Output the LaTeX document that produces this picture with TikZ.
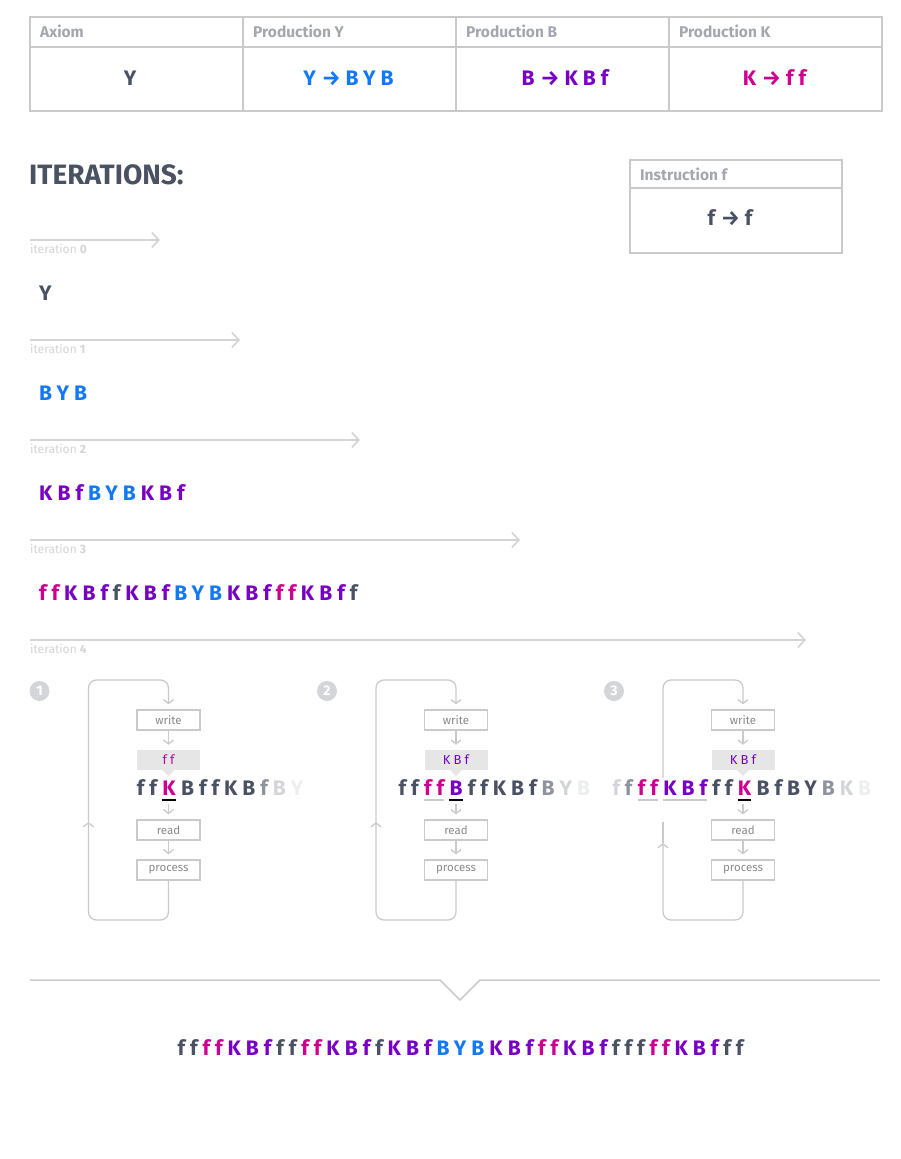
\documentclass[tikz,border=0pt]{standalone}
\usepackage{fontspec}
\setmainfont{Fira Sans}
\newfontfamily\seqfont[LetterSpace=24,Ligatures=CommonOff]{Fira Sans}
\usetikzlibrary{arrows.meta,positioning}

\definecolor{ink}{HTML}{4A5163}
\definecolor{lsblue}{HTML}{1279F2}
\definecolor{lspurple}{HTML}{7700C2}
\definecolor{lsmagenta}{HTML}{CC0090}
\definecolor{inkmid}{HTML}{8E939C}
\definecolor{inklight}{HTML}{D4D5D9}
\definecolor{inkfaint}{HTML}{EDEEF0}
\definecolor{rule}{HTML}{CACACD}
\definecolor{headgray}{HTML}{A4A7AD}
\definecolor{itergray}{HTML}{D3D4D8}
\definecolor{bufgray}{HTML}{E6E6E7}
\definecolor{boxtext}{HTML}{8A8A8A}

% each coloured run ends with the same tracking as inside the run
\newcommand\trk{\kern5pt}
\newcommand\cDk[1]{\textcolor{ink}{#1}\trk}
\newcommand\cMg[1]{\textcolor{lsmagenta}{#1}\trk}
\newcommand\cPu[1]{\textcolor{lspurple}{#1}\trk}
\newcommand\cBl[1]{\textcolor{lsblue}{#1}\trk}
\newcommand\cMd[1]{\textcolor{inkmid}{#1}\trk}
\newcommand\cLt[1]{\textcolor{inklight}{#1}\trk}
\newcommand\cXl[1]{\textcolor{inkfaint}{#1}\trk}

\tikzset{
  seq/.style={font=\seqfont\bfseries\fontsize{21}{21}\selectfont, inner sep=0pt, text=ink},
  seqat/.style={seq, anchor=base west},
  head/.style={font=\bfseries\fontsize{15.5}{15.5}\selectfont, text=headgray, anchor=base west, inner sep=0pt},
  rulebox/.style={draw=rule, line width=1.5pt},
  iterline/.style={draw=itergray, line width=1.6pt, -{Straight Barb[length=7pt,width=15pt,line width=1.6pt]}},
  iterlabel/.style={font=\fontsize{12}{12}\selectfont, text=itergray, anchor=base west, inner sep=0pt},
  stepbox/.style={draw=rule, line width=1.3pt, minimum width=63pt, minimum height=20pt, inner sep=0pt, font=\fontsize{11.5}{11.5}\selectfont, text=boxtext},
  bufbox/.style={fill=bufgray, minimum width=63pt, minimum height=20pt, inner sep=0pt, font=\seqfont\fontsize{13}{13}\selectfont},
  flowtip/.style={-{Straight Barb[length=4pt,width=10pt,line width=1.3pt]}},
  flow/.style={draw=rule, line width=1.3pt, shorten >=5pt, flowtip},
  loopline/.style={draw=rule, line width=1.3pt, rounded corners=8pt},
  numdot/.style={circle, fill=inklight, minimum size=20pt, inner sep=0pt, text=white, font=\bfseries\fontsize{14}{14}\selectfont},
  curline/.style={draw=black, line width=2pt},
  pastline/.style={draw=rule, line width=2pt}
}

\begin{document}
\begin{tikzpicture}[x=1pt,y=-1pt]
\useasboundingbox (0,0) rectangle (900,1159);

% rules table
\draw[rulebox] (30,17) rectangle (882,111);
\draw[rulebox] (30,47) -- (882,47);
\foreach \x in {243,456,669} \draw[rulebox] (\x,17) -- (\x,111);
\node[head] (hax) at (40,37) {Axiom};
\node[head] (hpy) at (253,37) {Production Y};
\node[head] (hpb) at (466,37) {Production B};
\node[head] (hpk) at (679,37) {Production K};
\node[seq, anchor=base] (vax) at (130,85) {Y};
\node[seq, anchor=base, text=lsblue] (vpy) at (348.5,85) {Y\kern6pt→\kern5pt BYB};
\node[seq, anchor=base, text=lspurple] (vpb) at (565,85) {B\kern6pt→\kern5pt KBf};
\node[seq, anchor=base, text=lsmagenta] (vpk) at (774.5,85) {K\kern6pt→\kern5pt ff};

% instruction box
\draw[rulebox] (630,160) rectangle (842,253);
\draw[rulebox] (630,188) -- (842,188);
\node[head] (hif) at (640,180) {Instruction f};
\node[seq, anchor=base] (vif) at (730,225) {f\kern6pt→\kern5pt f};

\node[font=\bfseries\fontsize{28}{28}\selectfont, text=ink, anchor=base west, inner sep=0pt] (title) at (29,184) {ITERATIONS:};

% iterations
\foreach \n/\y/\xe in {0/240/160, 1/340/240, 2/440/360, 3/540/520, 4/640/806} {
  \coordinate (is\n) at (30,\y);
  \coordinate (ie\n) at (\xe,\y);
  \draw[iterline] (is\n) -- (ie\n);
  \node[iterlabel] (il\n) at (30,\y+13) {iteration \textbf{\n}};
}
\node[seqat] (s0) at (39,300) {Y};
\node[seqat, text=lsblue] (s1) at (39,400) {BYB};
\node[seqat] (s2) at (39,500) {\cPu{KBf}\cBl{BYB}\cPu{KBf}};
\node[seqat] (s3) at (39,600) {\cMg{ff}\cPu{KBf}\cDk{f}\cPu{KBf}\cBl{BYB}\cPu{KBf}\cMg{ff}\cPu{KBf}\cDk{f}};

% read / process / write loops
\foreach \i/\xa/\bc/\bt/\tipy/\resy in {1/168.5/lsmagenta/ff/822/822, 2/456/lspurple/KBf/822/822, 3/743/lspurple/KBf/843/778} {
  \node[numdot] (n\i) at (\xa-129,691) {\i};
  \node[stepbox] (w\i) at (\xa,720) {write};
  \node[bufbox, text=\bc] (g\i) at (\xa,760) {\bt};
  \fill[bufgray] ([xshift=-6pt]g\i.south) -- ([xshift=6pt]g\i.south) -- ([yshift=-6pt]g\i.south) -- cycle;
  \node[stepbox] (r\i) at (\xa,830) {read};
  \node[stepbox] (p\i) at (\xa,870) {process};
  \coordinate (u\i) at (\xa,804);
  \coordinate (lb\i) at (\xa-80,920);
  \draw[flow] (w\i) -- (g\i);
  \draw[flow] (u\i) -- (r\i);
  \draw[flow] (r\i) -- (p\i);
  \draw[loopline, flowtip] (p\i.south) |- (lb\i) -- (\xa-80,\tipy);
  \draw[loopline] (\xa-80,\tipy) -- (\xa-80,822);
  \draw[loopline, shorten >=5pt, flowtip] (\xa-80,\resy) |- (\xa,680) -- (w\i.north);
}

% panel 1
\node[seq, anchor=base] (c1) at (171.5,795) {\cMg{K}};
\node[seq, anchor=base east] (b1) at (c1.base west) {\cDk{ff}};
\node[seqat] (a1) at (c1.base east) {\cDk{BffKB}\cMd{f}\cLt{B}\cXl{Y}};
\draw[curline] ([yshift=-5pt]c1.base west) -- ([xshift=-5pt,yshift=-5pt]c1.base east);

% panel 2
\node[seq, anchor=base] (c2) at (458.5,795) {\cPu{B}};
\node[seq, anchor=base east] (m2) at (c2.base west) {\cMg{ff}};
\node[seq, anchor=base east] (b2) at (m2.base west) {\cDk{ff}};
\node[seqat] (a2) at (c2.base east) {\cDk{ffKBf}\cMd{B}\cLt{Y}\cXl{B}};
\draw[pastline] ([yshift=-5pt]m2.base west) -- ([xshift=-5pt,yshift=-5pt]m2.base east);
\draw[curline] ([yshift=-5pt]c2.base west) -- ([xshift=-5pt,yshift=-5pt]c2.base east);

% panel 3
\node[seq, anchor=base] (c3) at (747,795) {\cMg{K}};
\node[seq, anchor=base east] (d3) at (c3.base west) {\cDk{ff}};
\node[seq, anchor=base east] (k3) at (d3.base west) {\cPu{KBf}};
\node[seq, anchor=base east] (m3) at (k3.base west) {\cMg{ff}};
\node[seq, anchor=base east] (b3) at (m3.base west) {\cLt{f}\cMd{f}};
\node[seqat] (a3) at (c3.base east) {\cDk{BfBY}\cMd{B}\cLt{K}\cXl{B}};
\draw[pastline] ([yshift=-5pt]m3.base west) -- ([xshift=-5pt,yshift=-5pt]m3.base east);
\draw[pastline] ([yshift=-5pt]k3.base west) -- ([xshift=-5pt,yshift=-5pt]k3.base east);
\draw[curline] ([yshift=-5pt]c3.base west) -- ([xshift=-5pt,yshift=-5pt]c3.base east);

% result
\coordinate (nl) at (30,980);
\coordinate (nr) at (880,980);
\draw[rulebox] (nl) -- (440,980) -- (460,1000) -- (480,980) -- (nr);
\node[seq, anchor=base] (s4) at (463,1055) {\cDk{ff}\cMg{ff}\cPu{KBf}\cDk{ff}\cMg{ff}\cPu{KBf}\cDk{f}\cPu{KBf}\cBl{BYB}\cPu{KBf}\cMg{ff}\cPu{KBf}\cDk{fff}\cMg{ff}\cPu{KBf}\cDk{ff}};
\end{tikzpicture}
\end{document}
